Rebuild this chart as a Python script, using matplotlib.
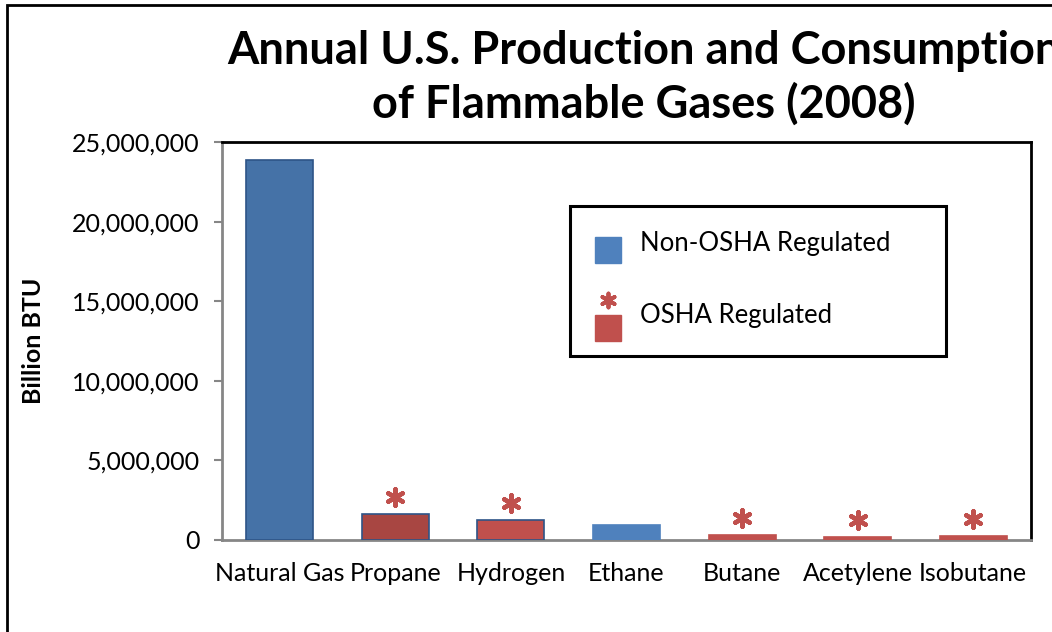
import matplotlib.pyplot as plt
from matplotlib.patches import Rectangle
from matplotlib.ticker import FuncFormatter
from matplotlib.transforms import offset_copy

# chart data
gases = ['Natural Gas', 'Propane', 'Hydrogen', 'Ethane', 'Butane', 'Acetylene', 'Isobutane']
btu = [23870000, 1630000, 1260000, 940000, 310000, 200000, 250000]
osha = [False, True, True, False, True, True, True]
bar_colors = ['#4572A7', '#A84642', '#C0504D', '#4F81BD', '#C0504D', '#C0504D', '#C0504D']
edge_colors = ['#2E5487', '#2E5487', '#2E5487', '#4F81BD', '#C0504D', '#C0504D', '#C0504D']

plt.rcParams['font.family'] = ['Lato', 'DejaVu Sans']

fig = plt.figure(figsize=(10.52, 6.32), dpi=100)
ax = fig.add_axes([0.2110, 0.1456, 0.7690, 0.6297])

x = range(len(gases))
ax.bar(x, btu, width=0.58, color=bar_colors, edgecolor=edge_colors, linewidth=1.2, zorder=3)

# asterisks above OSHA regulated gases
star_tr = offset_copy(ax.transData, fig=fig, x=0, y=17, units='dots')
ox = [i for i, f in zip(x, osha) if f]
oy = [v for v, f in zip(btu, osha) if f]
ax.scatter(ox, oy, marker=(6, 2, 0), s=140, linewidths=3.2, color='#C0504D',
           transform=star_tr, zorder=4, clip_on=False)

ax.set_xlim(-0.5, len(gases) - 0.5)
ax.set_ylim(0, 25000000)
ax.set_yticks(range(0, 25000001, 5000000))
ax.yaxis.set_major_formatter(FuncFormatter(lambda v, p: f'{int(v):,}'))
ax.set_xticks(list(x))
ax.set_xticklabels(gases)
ax.tick_params(axis='y', labelsize=18, length=6, color='#868686', width=1.5, pad=10)
ax.tick_params(axis='x', labelsize=18, length=0, pad=16)

for side in ['left', 'bottom']:
    ax.spines[side].set_color('#868686')
    ax.spines[side].set_linewidth(2)
for side in ['top', 'right']:
    ax.spines[side].set_color('black')
    ax.spines[side].set_linewidth(2)

ax.set_ylabel('Billion BTU', fontsize=18, fontweight='bold')
ax.yaxis.set_label_coords(-0.219, 0.5)

# title (runs off the right edge like the original)
fig.text(0.612, 0.877, 'Annual U.S. Production and Consumption\nof Flammable Gases (2008)',
         ha='center', va='center', fontsize=32.5, fontweight='bold', linespacing=1.3)

# legend box
lx0, ly0 = (570 - 222) / 809, (540 - 356) / 398
lw, lh = (946 - 570) / 809, (356 - 206) / 398
ax.add_patch(Rectangle((lx0, ly0), lw, lh, transform=ax.transAxes, fill=False,
                       edgecolor='black', linewidth=2.2, zorder=5))
sq_w, sq_h = 26 / 809, 26 / 398
sx = (595 - 222) / 809
ax.add_patch(Rectangle((sx, (540 - 263) / 398), sq_w, sq_h, transform=ax.transAxes,
                       color='#4F81BD', zorder=5))
ax.add_patch(Rectangle((sx, (540 - 341) / 398), sq_w, sq_h, transform=ax.transAxes,
                       color='#C0504D', zorder=5))
ax.scatter([sx + sq_w / 2], [(540 - 300) / 398], transform=ax.transAxes,
           marker=(6, 2, 0), s=100, linewidths=2.8, color='#C0504D', zorder=5)
tx = (640 - 222) / 809
ax.text(tx, (540 - 243) / 398, 'Non-OSHA Regulated', transform=ax.transAxes,
        fontsize=18.5, va='center', zorder=5)
ax.text(tx, (540 - 316) / 398, 'OSHA Regulated', transform=ax.transAxes,
        fontsize=18.5, va='center', zorder=5)

# outer chart border (cropped at right and bottom)
fig.patches.append(Rectangle((7 / 1052, -0.1), 1.2, 1 - 5 / 632 + 0.1,
                             transform=fig.transFigure, fill=False,
                             edgecolor='black', linewidth=2))

fig.savefig('out.png', dpi=100)
